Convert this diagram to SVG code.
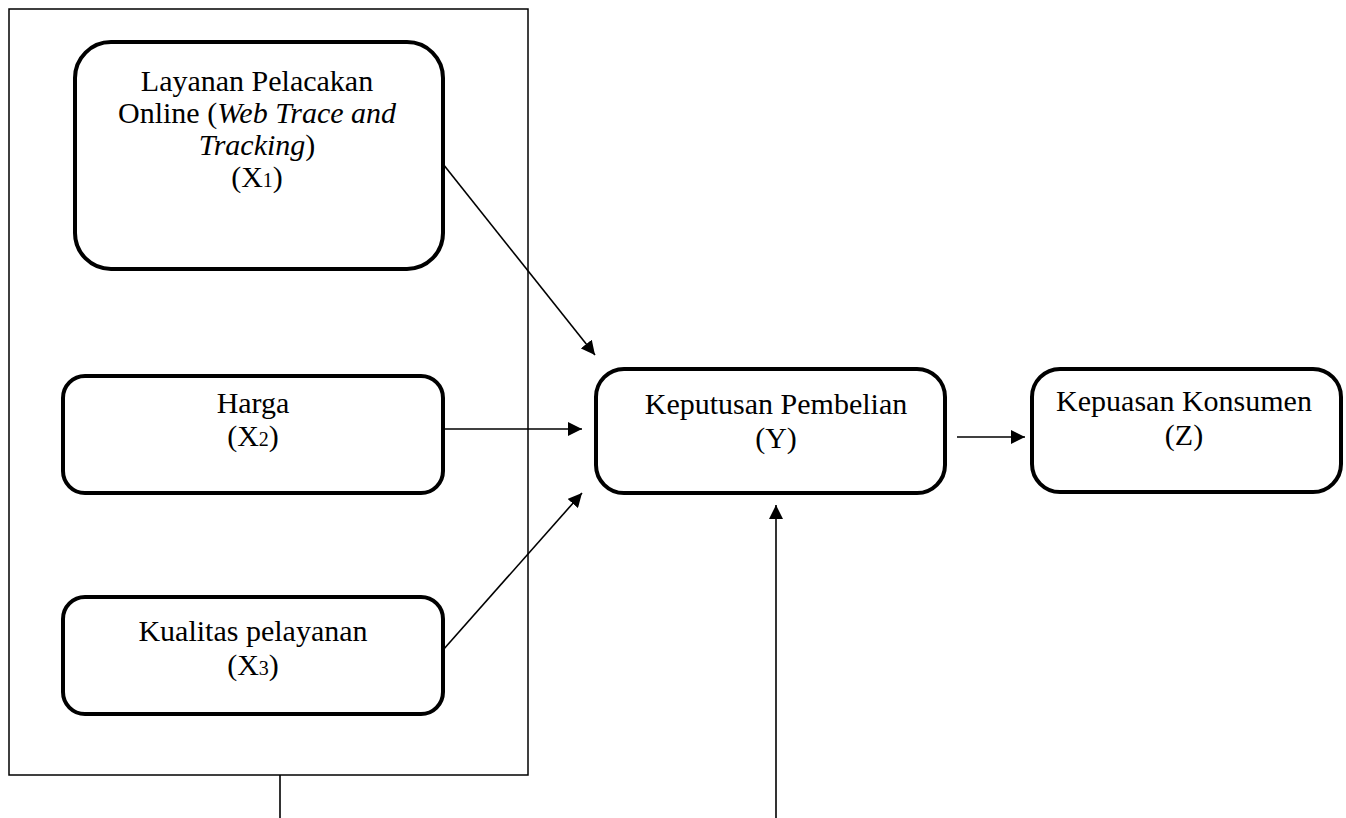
<svg xmlns="http://www.w3.org/2000/svg" width="1346" height="818" viewBox="0 0 1346 818">
<defs>
<marker id="ah" markerWidth="14" markerHeight="14" refX="14" refY="7" orient="auto" markerUnits="userSpaceOnUse" viewBox="0 0 14 14">
<path d="M0,0 L14,7 L0,14 z" fill="#000"/>
</marker>
<style>
.node{fill:#fff;stroke:#000;stroke-width:4}
.frame{fill:none;stroke:#000;stroke-width:1.5}
.conn{stroke:#000;stroke-width:1.6;fill:none}
text{font-family:"Liberation Serif","Times New Roman",serif;font-size:30px;fill:#000;text-anchor:middle}
.sub{font-size:20px}
</style>
</defs>
<rect width="1346" height="818" fill="#fff"/>
<g id="frame">
<rect class="frame" x="9" y="9" width="519" height="766"/>
</g>
<g id="x1">
<rect class="node" x="75" y="42" width="368" height="227" rx="36"/>
<text x="257" y="91">Layanan Pelacakan</text>
<text x="257" y="123">Online (<tspan font-style="italic">Web Trace and</tspan></text>
<text x="257" y="155"><tspan font-style="italic">Tracking</tspan>)</text>
<text x="257" y="187">(X<tspan class="sub">1</tspan>)</text>
</g>
<g id="x2">
<rect class="node" x="63" y="376" width="380" height="117" rx="22"/>
<text x="253" y="413">Harga</text>
<text x="253" y="446">(X<tspan class="sub">2</tspan>)</text>
</g>
<g id="x3">
<rect class="node" x="63" y="597" width="380" height="117" rx="22"/>
<text x="253" y="641">Kualitas pelayanan</text>
<text x="253" y="675">(X<tspan class="sub">3</tspan>)</text>
</g>
<g id="y">
<rect class="node" x="596" y="369" width="349" height="124" rx="28"/>
<text x="776" y="414">Keputusan Pembelian</text>
<text x="776" y="448">(Y)</text>
</g>
<g id="z">
<rect class="node" x="1032" y="369" width="309" height="123" rx="28"/>
<text x="1184" y="411">Kepuasan Konsumen</text>
<text x="1184" y="445">(Z)</text>
</g>
<g id="connectors">
<line class="conn" x1="443" y1="164" x2="595" y2="355" marker-end="url(#ah)"/>
<line class="conn" x1="443" y1="429" x2="582" y2="429" marker-end="url(#ah)"/>
<line class="conn" x1="443" y1="650" x2="582" y2="493" marker-end="url(#ah)"/>
<line class="conn" x1="957" y1="437" x2="1025" y2="437" marker-end="url(#ah)"/>
<line class="conn" x1="776" y1="818" x2="776" y2="505" marker-end="url(#ah)"/>
<line class="conn" x1="280" y1="775" x2="280" y2="818"/>
</g>
</svg>
